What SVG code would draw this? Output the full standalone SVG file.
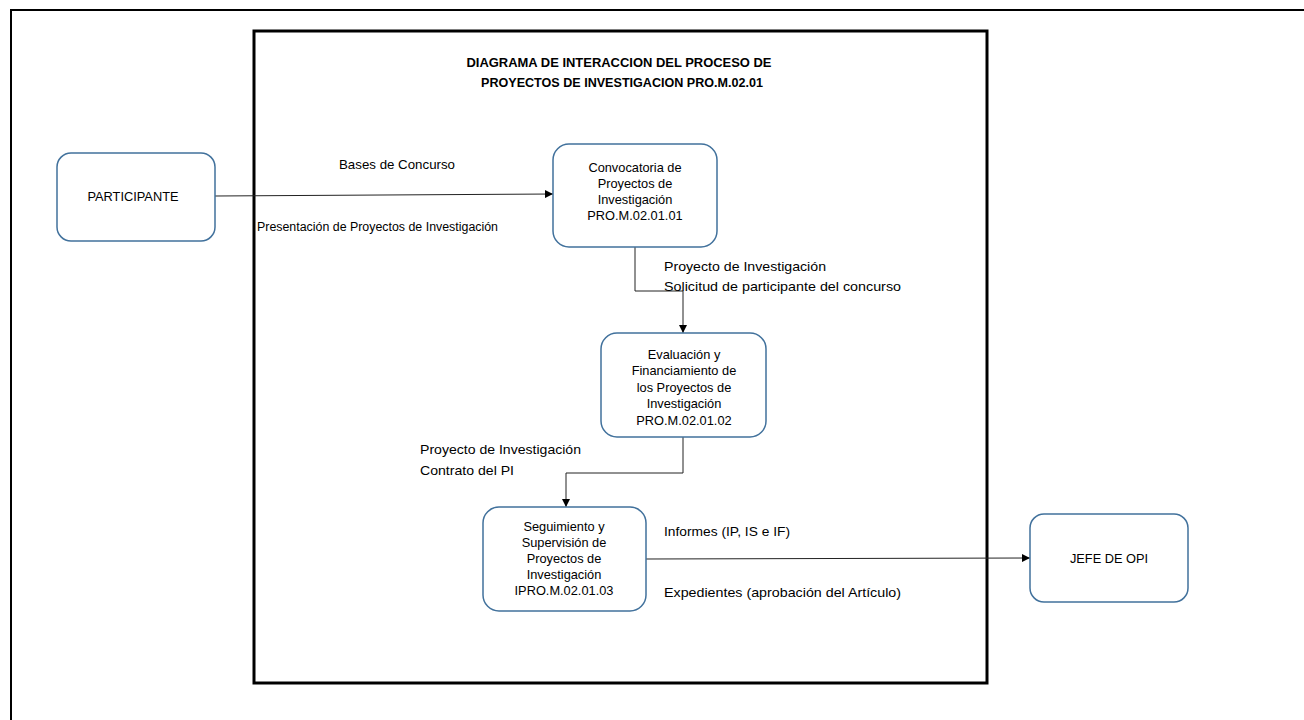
<svg xmlns="http://www.w3.org/2000/svg" width="1304" height="720" viewBox="0 0 1304 720">
<style>
.node{fill:#fff;stroke:#41719c;stroke-width:1.5}
.nt{font-family:"Liberation Sans",Arial,sans-serif;font-size:12.8px;fill:#000;text-anchor:middle}
.lbl{font-family:"Liberation Sans",Arial,sans-serif;font-size:13.5px;fill:#000}
.title{font-family:"Liberation Sans",Arial,sans-serif;font-size:13px;font-weight:bold;fill:#000;text-anchor:middle}
.conn{fill:none;stroke:#222;stroke-width:1}
</style>
<defs>
<marker id="arr" viewBox="0 0 10 10" refX="10" refY="5" markerWidth="8" markerHeight="8" markerUnits="userSpaceOnUse" orient="auto">
<path d="M0,0 L10,5 L0,10 z" fill="#000"/>
</marker>
</defs>
<rect width="1304" height="720" fill="#fff"/>
<path d="M11,720 V10 H1304" fill="none" stroke="#000" stroke-width="2"/>
<rect x="254" y="31" width="733" height="652" fill="none" stroke="#000" stroke-width="3"/>
<g id="title">
<text class="title" x="619" y="67" textLength="305" lengthAdjust="spacingAndGlyphs">DIAGRAMA DE INTERACCION DEL PROCESO DE</text>
<text class="title" x="622" y="87" textLength="282" lengthAdjust="spacingAndGlyphs">PROYECTOS DE INVESTIGACION PRO.M.02.01</text>
</g>
<g id="connectors">
<line class="conn" x1="215" y1="196" x2="553" y2="194" marker-end="url(#arr)"/>
<polyline class="conn" points="635,247 635,291 683,291 683,333" marker-end="url(#arr)"/>
<polyline class="conn" points="683,437 683,473 566,473 566,507" marker-end="url(#arr)"/>
<line class="conn" x1="646" y1="559" x2="1030" y2="558" marker-end="url(#arr)"/>
</g>
<g id="labels">
<text class="lbl" x="339" y="169" textLength="116" lengthAdjust="spacingAndGlyphs">Bases de Concurso</text>
<text class="lbl" x="257" y="231" style="font-size:12px" textLength="241" lengthAdjust="spacingAndGlyphs">Presentación de Proyectos de Investigación</text>
<text class="lbl" x="664" y="271" textLength="162" lengthAdjust="spacingAndGlyphs">Proyecto de Investigación</text>
<text class="lbl" x="664" y="291" textLength="237" lengthAdjust="spacingAndGlyphs">Solicitud de participante del concurso</text>
<text class="lbl" x="420" y="454" textLength="161" lengthAdjust="spacingAndGlyphs">Proyecto de Investigación</text>
<text class="lbl" x="420" y="475" textLength="94" lengthAdjust="spacingAndGlyphs">Contrato del PI</text>
<text class="lbl" x="664" y="536" textLength="126" lengthAdjust="spacingAndGlyphs">Informes (IP, IS e IF)</text>
<text class="lbl" x="664" y="597" textLength="237" lengthAdjust="spacingAndGlyphs">Expedientes (aprobación del Artículo)</text>
</g>
<g id="participante">
<rect class="node" x="57" y="153" width="158" height="88" rx="14"/>
<text class="nt" x="133" y="201">PARTICIPANTE</text>
</g>
<g id="convocatoria">
<rect class="node" x="553" y="144" width="164" height="103" rx="16"/>
<text class="nt" x="635" y="172">Convocatoria de</text>
<text class="nt" x="635" y="188">Proyectos de</text>
<text class="nt" x="635" y="204">Investigación</text>
<text class="nt" x="635" y="220">PRO.M.02.01.01</text>
</g>
<g id="evaluacion">
<rect class="node" x="601" y="333" width="165" height="104" rx="16"/>
<text class="nt" x="684" y="359">Evaluación y</text>
<text class="nt" x="684" y="375">Financiamiento de</text>
<text class="nt" x="684" y="392">los Proyectos de</text>
<text class="nt" x="684" y="408">Investigación</text>
<text class="nt" x="684" y="425">PRO.M.02.01.02</text>
</g>
<g id="seguimiento">
<rect class="node" x="483" y="507" width="163" height="104" rx="16"/>
<text class="nt" x="564" y="531">Seguimiento y</text>
<text class="nt" x="564" y="547">Supervisión de</text>
<text class="nt" x="564" y="563">Proyectos de</text>
<text class="nt" x="564" y="579">Investigación</text>
<text class="nt" x="564" y="595">IPRO.M.02.01.03</text>
</g>
<g id="jefe">
<rect class="node" x="1030" y="514" width="158" height="88" rx="14"/>
<text class="nt" x="1109" y="563">JEFE DE OPI</text>
</g>
</svg>
